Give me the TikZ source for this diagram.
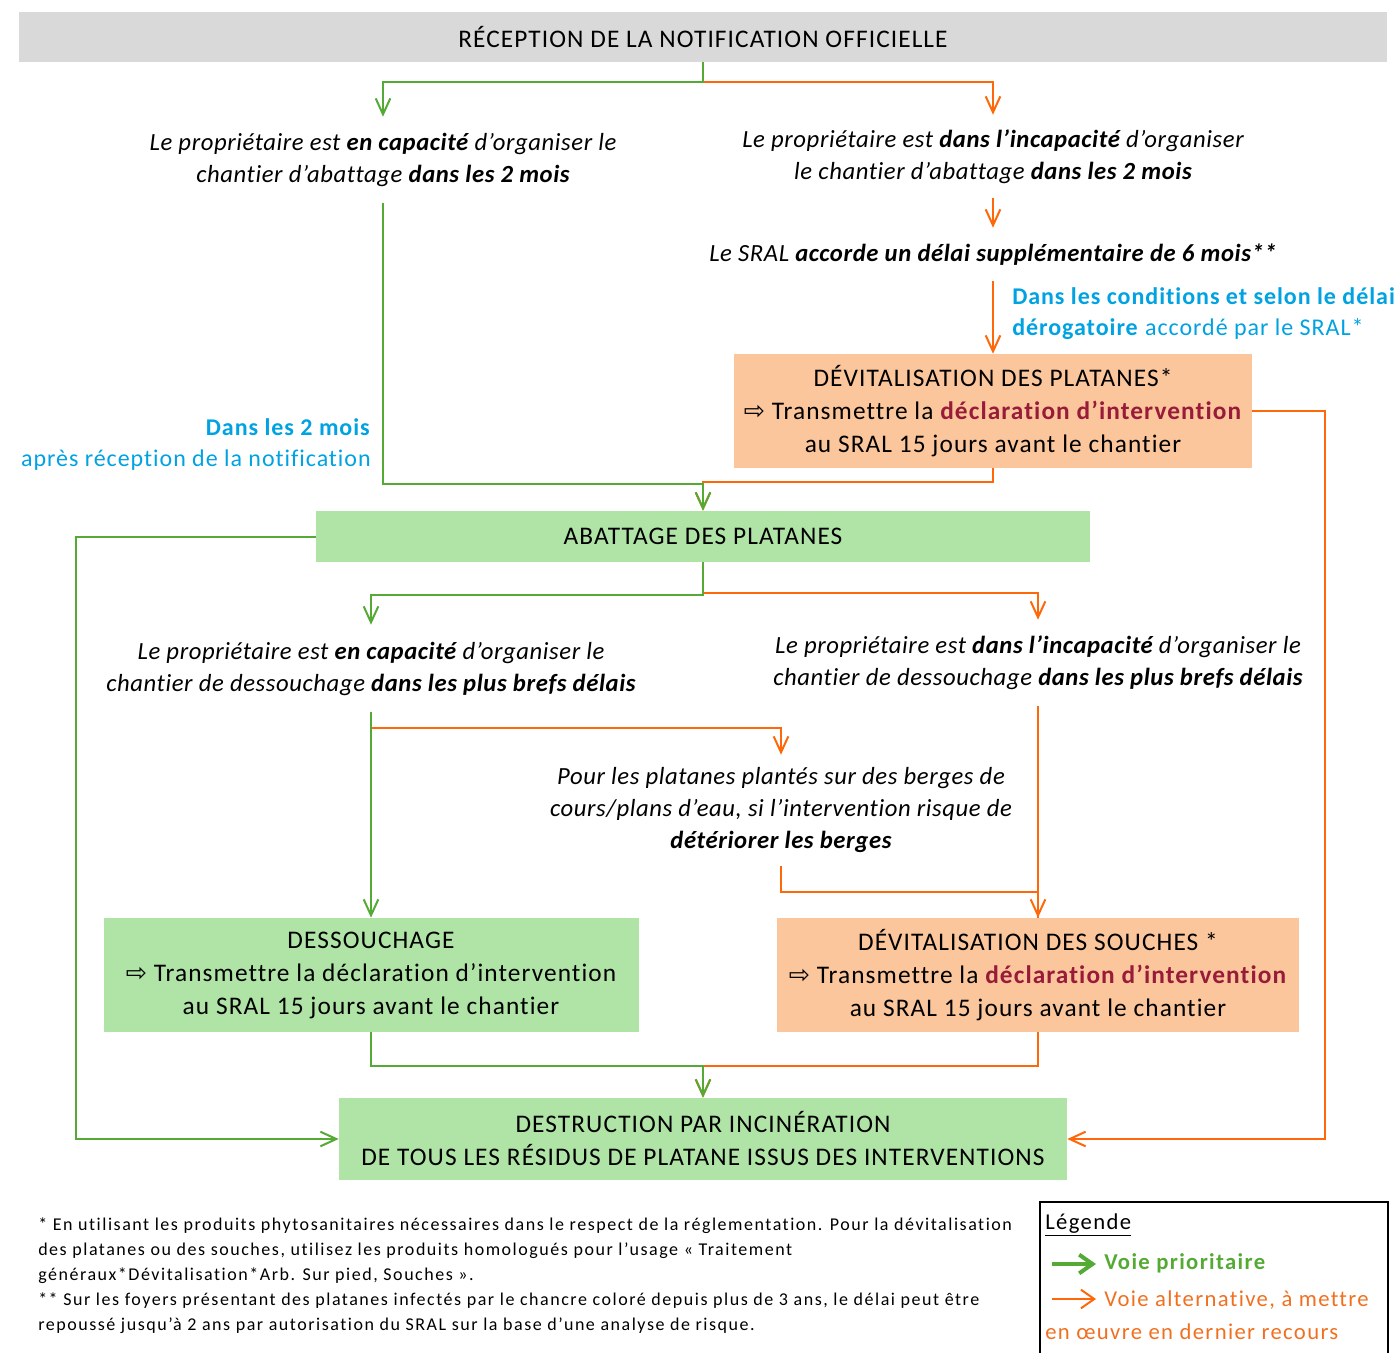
\documentclass[tikz,border=0pt]{standalone}
\usepackage{fontspec}
\setmainfont{Carlito}[Ligatures=NoCommon]
\newfontfamily\symfont{DejaVu Sans}
\usetikzlibrary{arrows.meta}
\definecolor{grayfill}{RGB}{217,217,217}
\definecolor{greenfill}{RGB}{175,228,166}
\definecolor{orangefill}{RGB}{251,198,155}
\definecolor{lgreen}{RGB}{84,170,52}
\definecolor{lorange}{RGB}{255,104,8}
\definecolor{lblue}{RGB}{0,162,226}
\definecolor{dred}{RGB}{153,27,58}
\definecolor{legorange}{RGB}{240,112,32}
\tikzset{
  boxtext/.style={rectangle, inner sep=0pt, align=center, font=\fontsize{19}{24.75}\selectfont\addfontfeatures{LetterSpace=4.3}},
  graybox/.style={boxtext, fill=grayfill},
  greenbox/.style={boxtext, fill=greenfill},
  orangebox/.style={boxtext, fill=orangefill},
  steptext/.style={rectangle, inner sep=0pt, align=center, font=\fontsize{18.5}{24}\selectfont\addfontfeatures{LetterSpace=2.4}\itshape},
  bluetext/.style={inner sep=0pt, text=lblue, font=\fontsize{18}{23.25}\selectfont\addfontfeatures{LetterSpace=4}},
  gline/.style={draw=lgreen, line width=1.5pt},
  oline/.style={draw=lorange, line width=1.5pt},
  arr/.style={-{Straight Barb[length=12pt,width=11pt]}},
  legtext/.style={inner sep=0pt, anchor=west, font=\fontsize{17}{22}\selectfont\addfontfeatures{LetterSpace=6}},
}
\begin{document}
\begin{tikzpicture}[x=0.75pt,y=-0.75pt]
\useasboundingbox (0,0) rectangle (1400,1353);

% boxes
\node[graybox, minimum width=1026pt, minimum height=37.5pt] (top) at (703,37) {RÉCEPTION DE LA NOTIFICATION OFFICIELLE};
\node[orangebox, minimum width=388.5pt, minimum height=85.5pt] (devplat) at (993,411)
  {DÉVITALISATION DES PLATANES*\\{\symfont ⇨} Transmettre la \textcolor{dred}{\textbf{déclaration d’intervention}}\\au SRAL 15 jours avant le chantier};
\node[greenbox, minimum width=580.5pt, minimum height=38.25pt] (abattage) at (703,536.5) {ABATTAGE DES PLATANES};
\node[greenbox, minimum width=401.25pt, minimum height=85.5pt] (dess) at (371,975)
  {DESSOUCHAGE\\{\symfont ⇨} Transmettre la déclaration d’intervention\\au SRAL 15 jours avant le chantier};
\node[orangebox, minimum width=391.5pt, minimum height=85.5pt] (devsouch) at (1038,975)
  {DÉVITALISATION DES SOUCHES *\\{\symfont ⇨} Transmettre la \textcolor{dred}{\textbf{déclaration d’intervention}}\\au SRAL 15 jours avant le chantier};
\node[greenbox, minimum width=546pt, minimum height=61.5pt] (destruction) at (703,1139)
  {DESTRUCTION PAR INCINÉRATION\\DE TOUS LES RÉSIDUS DE PLATANE ISSUS DES INTERVENTIONS};

% step texts
\node[steptext, minimum height=64.5pt] (capL) at (383,160)
  {Le propriétaire est \textbf{en capacité} d’organiser le\\chantier d’abattage \textbf{dans les 2 mois}};
\node[steptext, minimum height=62.25pt] (incapR) at (993,156.5)
  {Le propriétaire est \textbf{dans l’incapacité} d’organiser\\le chantier d’abattage \textbf{dans les 2 mois}};
\node[steptext, minimum height=39.75pt] (sral) at (993,254.5)
  {Le SRAL \textbf{accorde un délai supplémentaire de 6 mois**}};
\node[steptext, minimum height=65.25pt] (capL2) at (371,668.5)
  {Le propriétaire est \textbf{en capacité} d’organiser le\\chantier de dessouchage \textbf{dans les plus brefs délais}};
\node[steptext, minimum height=64.5pt] (incapR2) at (1038,663)
  {Le propriétaire est \textbf{dans l’incapacité} d’organiser le\\chantier de dessouchage \textbf{dans les plus brefs délais}};
\node[steptext, minimum height=83.25pt] (berges) at (781,810.5)
  {Pour les platanes plantés sur des berges de\\cours/plans d’eau, si l’intervention risque de\\\textbf{détériorer les berges}};

% blue labels
\node[bluetext, anchor=west, align=left] (blueR) at (1012,314)
  {\textbf{Dans les conditions et selon le délai}\\\textbf{dérogatoire} accordé par le SRAL*};
\node[bluetext, anchor=east, align=right] (blueL) at (371,445)
  {\textbf{Dans les 2 mois}\\après réception de la notification};

% connectors (orange first, green on top)
\draw[oline, arr] (top.south) -- ++(0,20) -| (incapR.north);
\draw[gline, arr] (top.south) -- ++(0,20) -| (capL.north);
\draw[oline, arr] (incapR.south) -- (sral.north);
\draw[oline, arr] (sral.south) -- (devplat.north);
\draw[oline, arr] (devplat.east) -- ++(73,0) |- (destruction.east);
\draw[oline, arr] (devplat.south) -- ++(0,14) -| (abattage.north);
\draw[gline, arr] (capL.south) -- ++(0,281) -| (abattage.north);
\draw[gline, arr] (abattage.west) -- ++(-240,0) |- (destruction.west);
\draw[oline, arr] (abattage.south) -- ++(0,31) -| (incapR2.north);
\draw[gline, arr] (abattage.south) -- ++(0,33) -| (capL2.north);
\draw[oline, arr] (capL2.south) -- ++(0,16) -| (berges.north);
\draw[gline, arr] (capL2.south) -- (dess.north);
\draw[oline] (berges.south) -- ++(0,26) -| (devsouch.north);
\draw[oline, arr] (incapR2.south) -- (devsouch.north);
\draw[oline, arr] (devsouch.south) -- ++(0,34) -| (destruction.north);
\draw[gline, arr] (dess.south) -- ++(0,34) -| (destruction.north);

% footnotes
\node[inner sep=0pt, anchor=west, align=left, font=\fontsize{13.5}{18.75}\selectfont\addfontfeatures{LetterSpace=8.5}] (notes) at (38,1276)
  {* En utilisant les produits phytosanitaires nécessaires dans le respect de la réglementation. Pour la dévitalisation\\
   des platanes ou des souches, utilisez les produits homologués pour l’usage «~Traitement\\
   généraux*Dévitalisation*Arb. Sur pied, Souches~».\\
   ** Sur les foyers présentant des platanes infectés par le chancre coloré depuis plus de 3 ans, le délai peut être\\
   repoussé jusqu’à 2 ans par autorisation du SRAL sur la base d’une analyse de risque.};

% legend
\node[draw=black, line width=1.5pt, inner sep=0pt, minimum width=261pt, minimum height=122pt, anchor=north west] (legend) at (1039,1201) {};
\node[legtext] (legtitle) at (1045,1225) {\underline{Légende}};
\coordinate (lga) at (1052,1264);
\coordinate (lgb) at (1096,1264);
\coordinate (loa) at (1052,1299);
\coordinate (lob) at (1096,1299);
\draw[draw=lgreen, line width=3pt, -{Straight Barb[length=10pt,width=14pt]}] (lga) -- (lgb);
\draw[draw=lorange, line width=1.5pt, -{Straight Barb[length=10pt,width=14pt]}] (loa) -- (lob);
\node[legtext, text=lgreen] (leg1) at (1104,1263) {\textbf{Voie prioritaire}};
\node[legtext, text=legorange] (leg2) at (1104,1300) {Voie alternative, à mettre};
\node[legtext, text=legorange] (leg3) at (1045,1332) {en œuvre en dernier recours};
\end{tikzpicture}
\end{document}
